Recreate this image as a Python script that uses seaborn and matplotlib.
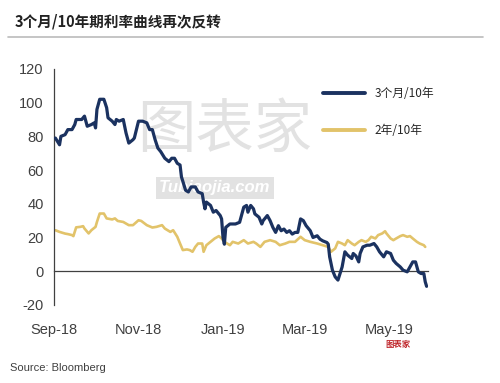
import warnings
warnings.simplefilter(action='ignore', category=UserWarning)
import pandas as pd
import numpy as np
import seaborn as sns
import matplotlib as mpl
import matplotlib.pyplot as plt
import matplotlib.dates as mdates

# 데이터 (2018-09-01 기준 경과일, bp)
start = pd.Timestamp("2018-09-01")
navy_day = [1, 4, 5, 8, 10, 13, 15, 16, 20, 22, 24, 27, 29, 30, 31, 33, 36, 38, 39, 42,
            44, 45, 47, 50, 52, 54, 57, 58, 61, 64, 67, 69, 71, 73, 75, 77, 80, 83, 85, 87,
            89, 91, 92, 95, 97, 99, 102, 104, 107, 108, 109, 110, 113, 115, 117, 120, 121, 122, 123, 124,
            127, 131, 134, 137, 139, 140, 142, 144, 145, 148, 150, 151, 154, 156, 158, 160, 162, 164, 166, 168,
            170, 172, 174, 176, 178, 180, 182, 185, 187, 190, 192, 194, 197, 198, 199, 201, 203, 205, 208, 210,
            212, 215, 216, 218, 220, 221, 223, 226, 228, 231, 233, 235, 238, 240, 243, 245, 247, 250, 252, 255,
            257, 259, 261, 263, 265, 267, 268, 269]
navy_val = [79, 75, 80, 81, 84, 84, 87, 90, 90, 92, 86, 87, 88, 85, 96, 102, 102, 97, 91, 89,
            87, 90, 89, 90, 82, 76, 78, 79, 89, 89, 88, 84, 84, 78, 73, 71, 67, 65, 67, 67,
            64, 63, 56, 48, 47, 50, 50, 47, 46, 41, 37, 41, 39, 35, 36, 33, 31, 20, 16, 26,
            28, 28, 29, 38, 39, 35, 39, 37, 34, 32, 28, 30, 33, 30, 26, 23, 27, 24, 25, 23,
            24, 22, 23, 23, 31, 30, 27, 24, 20, 21, 19, 18, 17, 16, 8.5, 0.6, -3.4, -5.3, 2.5, 11.5,
            9.5, 7.5, 10.5, 9, 5.5, 10.5, 14.4, 15.4, 15.4, 16.4, 14.4, 11.5, 8.5, 11.5, 10.5, 6.5, 4.6, 2.5, 0.6, -0.4,
            2.5, 5.5, 5.5, -0.4, -1.4, -1.4, -6.3, -9]

gold_day = [1, 4, 8, 10, 13, 14, 16, 19, 21, 22, 25, 27, 30, 31, 33, 36, 38, 42, 44, 46,
            50, 54, 57, 61, 63, 67, 71, 74, 78, 80, 84, 86, 89, 91, 93, 96, 98, 100, 102, 104,
            107, 108, 110, 113, 116, 119, 121, 123, 127, 129, 133, 137, 140, 144, 146, 149, 152, 156, 160, 163,
            167, 170, 174, 178, 181, 185, 190, 194, 198, 200, 203, 205, 208, 210, 212, 215, 217, 220, 222, 225,
            227, 229, 232, 234, 237, 239, 240, 243, 245, 247, 250, 252, 255, 257, 259, 262, 264, 267, 268]
gold_val = [24.3, 23.3, 22.3, 22, 21.4, 20.8, 26, 26.3, 26.7, 25.3, 22.4, 24.3, 26.3, 29.2, 34.2, 34.2, 31.3, 30.7, 31.3, 29.8,
            29.2, 27.3, 27.3, 30.2, 29.8, 27.3, 25.9, 26.3, 27.3, 25.3, 23.3, 24.3, 20.4, 16.4, 12.5, 12.9, 12.5, 11.5, 14.4, 16.4,
            16.4, 11.5, 15.4, 17.4, 19.4, 20.8, 19.4, 17.4, 15.4, 17.4, 16.4, 18.4, 16.4, 17.4, 16.4, 14.4, 17.4, 18.4, 17.4, 15.4,
            16.4, 17.4, 17.4, 20.4, 18.4, 17.4, 16.4, 15.4, 14.4, 11.5, 13.5, 17.4, 16.4, 15.4, 18.4, 16.4, 15.4, 17.4, 18.4, 17.4,
            18.4, 20.4, 19.4, 21.4, 22.4, 23.7, 22.4, 19.4, 18.4, 19.4, 20.8, 21.4, 20.4, 20.8, 19.4, 17.4, 16.4, 15.4, 14.4]

labels = ["3个月/10年", "2年/10年"]
ticks = ["2018-09-01", "2018-11-01", "2019-01-01", "2019-03-01", "2019-05-01"]

sns.set_style("white")
mpl.rcParams['font.family'] = ['Liberation Sans', 'Noto Sans CJK SC', 'DejaVu Sans']
mpl.rcParams['axes.unicode_minus'] = False
cjk = ['Noto Sans CJK SC', 'DejaVu Sans']

navy = pd.DataFrame({"date": start + pd.to_timedelta(navy_day, unit="D"), "v": navy_val})
gold = pd.DataFrame({"date": start + pd.to_timedelta(gold_day, unit="D"), "v": gold_val})

fig = plt.figure(figsize=(5, 3.83), dpi=100)
ax = fig.add_axes([0.108, 0.204, 0.748, 0.616])
ax.set_zorder(2)
ax.patch.set_alpha(0)

# 워터마크 (선 아래)
fig.text(0.45, 0.66, "图表家", family=cjk, fontsize=42, color="#e2e2e2",
         ha="center", va="center", zorder=0)
fig.text(0.43, 0.51, "Tubiaojia.com", fontsize=12, color="white", weight="bold", style="italic",
         ha="center", va="center", zorder=0,
         bbox=dict(boxstyle="square,pad=0.2", fc="#e2e2e2", ec="none"))

sns.lineplot(data=navy, x="date", y="v", ax=ax, color="#1b3260", linewidth=2.3, label=labels[0], zorder=3)
sns.lineplot(data=gold, x="date", y="v", ax=ax, color="#e2c36a", linewidth=1.9, label=labels[1], zorder=2)

ax.set_xlim(start, start + pd.Timedelta(days=270))
ax.set_ylim(-20, 120)
ax.set_yticks(range(-20, 121, 20))
ax.set_xticks(pd.to_datetime(ticks))
ax.xaxis.set_major_formatter(mdates.DateFormatter("%b-%y"))
ax.set_xlabel("")
ax.set_ylabel("")

for s in ["top", "right"]:
    ax.spines[s].set_visible(False)
ax.spines["bottom"].set_position(("data", 0))
ax.spines["left"].set_color("#404040")
ax.spines["bottom"].set_color("#404040")
ax.spines["left"].set_linewidth(0.9)
ax.spines["bottom"].set_linewidth(0.9)
ax.tick_params(axis="both", direction="out", length=4, width=0.9, color="#404040",
               labelsize=10.5, labelcolor="#404040")
ax.tick_params(axis="x", pad=33)

leg = ax.legend(loc="upper left", bbox_to_anchor=(0.69, 0.97), frameon=False,
                prop={'family': cjk, 'size': 8.5}, handlelength=3.6, labelspacing=2.1,
                handletextpad=0.8)
for line in leg.get_lines():
    line.set_linewidth(2.8)

fig.text(0.03, 0.945, "3个月/10年期利率曲线再次反转", family=cjk, fontsize=10.5,
         weight="bold", color="#222222", va="center")
fig.add_artist(mpl.lines.Line2D([0.016, 0.966], [0.903, 0.903], color="#bbbbbb", linewidth=1.2))
fig.text(0.02, 0.04, "Source: Bloomberg", fontsize=8, color="#404040", va="center")
fig.text(0.77, 0.10, "图表家", family=cjk, fontsize=6, color="#c0282d", weight="bold", va="center")

plt.savefig("out.png", dpi=100)
